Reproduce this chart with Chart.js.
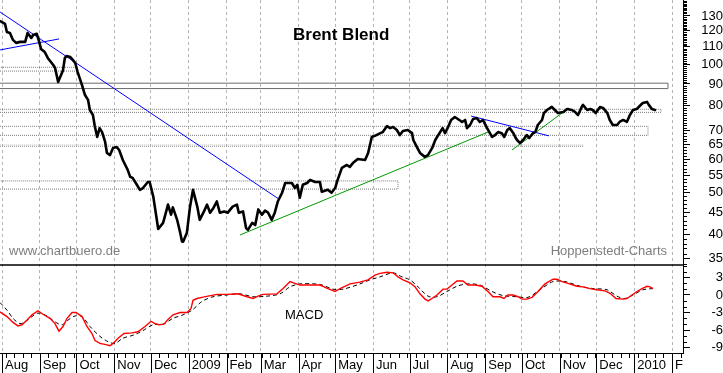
<!DOCTYPE html>
<html>
<head>
<meta charset="utf-8">
<script src="https://cdn.jsdelivr.net/npm/chart.js@4.4.0/dist/chart.umd.min.js"></script>
<style>
html,body{margin:0;padding:0;background:#fff;}
canvas{display:block;}
</style>
</head>
<body>
<canvas id="c" width="723" height="373"></canvas>
<script>
// Day numbers count from 2008-08-01 (day 0)
const monthDays   = [0,31,61,92,122,153,184,212,243,273,304,334,365,396,426,457,487,518,549];
const monthLabels = ['Aug','Sep','Oct','Nov','Dec','2009','Feb','Mar','Apr','May','Jun','Jul','Aug','Sep','Oct','Nov','Dec','2010','F'];
const priceTickValues = [35,40,45,50,55,60,65,70,80,90,100,110,120,130];
const macdTickValues  = [-9,-6,-3,0,3];

const priceDays = [
  -1.6,2.5,4,6.5,9,11.5,15,19,21,24,
  25.5,28.5,30,32,35,37.5,42,43.5,46,50,
  51.5,53,56,58,60,62,65.5,68,70.5,72,
  74.5,76,78,80,82,84.5,86,88.5,91,94,
  96,99,101,103,105,107,110.5,113,115.5,119.5,
  121,124,128,132,135,136,138.5,140,143.5,146,
  147.5,148.5,151.5,154,156.5,160,162,165.5,168,170.5,
  173.5,176,178.5,182,185,189,192.5,194,197.5,200,
  201.5,205,207.5,210,213,215.5,218,221,223.5,226,
  229.5,232,234.5,237.5,240,242,244,246.5,250,252.5,
  256.5,260.5,262,267,270,273,275,278.5,282.5,285,
  287.5,291.5,297.5,300,303,305.5,310,312,315.5,318,
  320.5,323.5,326,328.5,332.5,336,337,340,342.5,346.5,
  349,352.5,355,359,361,363,365.5,368,371,373.5,
  377,379.5,381,383.5,386,389,391.5,394,397.5,401.5,
  404,406.5,409.5,411.5,414,416,419,420.5,422,424.5,
  427,430,432,435,437,439,442.5,444,446.5,450.5,
  453,455.5,460,463,467,469.5,472,475,476,479.5,
  482,484,486.5,490,492.5,496,498,500.5,504,506,
  509,512,514.5,517,520,522.5,525,528.5,530,532.5,
  535
];
const priceClose = [
  126.5,124.5,119.2,118.6,114.2,112.4,113.0,113.0,118.6,115.4,
  117.3,118.0,114.2,108.8,107.0,103.6,99.7,98.1,91.0,97.0,
  103.6,104.7,104.1,102.5,100.8,96.0,89.6,84.8,82.6,78.2,
  76.1,71.7,67.6,70.9,69.4,65.8,62.0,61.3,63.7,64.0,
  63.0,59.7,58.1,56.6,54.5,54.2,52.2,50.8,51.3,53.0,
  53.0,48.9,41.1,42.5,45.7,46.9,44.4,46.2,43.2,40.3,
  38.4,38.4,40.3,46.2,50.8,46.4,43.2,45.2,46.9,44.9,
  46.2,47.7,44.9,45.2,44.9,46.4,46.9,44.9,45.2,41.3,
  40.9,42.5,42.0,45.7,44.4,45.4,44.9,43.2,44.9,47.7,
  50.0,52.7,52.7,52.7,51.3,52.2,48.7,52.2,52.7,53.6,
  53.0,53.0,50.3,50.8,50.0,51.3,53.6,57.2,58.1,57.5,
  58.7,60.0,59.7,62.0,67.6,68.0,69.0,69.4,71.7,70.9,
  71.3,70.2,68.3,69.8,70.2,69.0,66.5,64.0,62.0,60.7,
  61.3,63.7,66.5,69.4,70.9,69.0,71.3,74.1,75.3,74.5,
  73.3,74.1,70.9,72.1,74.5,74.9,73.3,74.1,70.9,67.6,
  68.3,69.4,69.0,67.6,70.2,70.9,69.0,67.6,66.5,65.4,
  66.5,68.3,67.2,69.0,69.4,72.1,74.1,76.9,78.2,79.5,
  78.2,76.9,77.4,78.6,78.2,77.4,76.1,79.5,80.4,78.2,
  78.6,78.2,76.9,79.5,79.1,76.9,74.1,72.1,72.1,73.3,
  74.1,73.3,76.1,78.2,78.6,79.9,81.2,81.7,80.4,78.6,
  78.2
];

const macdDays = [
  -1.6,4.1,9.0,13.1,16.4,20.5,24.6,29.5,33.6,39.3,
  43.4,46.7,50.0,53.3,57.4,60.6,65.6,69.6,73.7,76.2,
  80.3,85.2,88.5,91.0,95.1,100.0,106.5,111.4,117.2,122.1,
  125.4,128.6,132.7,136.0,140.1,145.9,151.6,154.9,156.5,159.8,
  163.9,168.8,176.2,184.4,193.4,200.8,205.7,209.8,213.9,225.3,
  230.3,236.0,240.1,244.2,260.6,267.1,272.9,277.0,285.2,293.3,
  299.9,305.6,309.7,315.5,320.4,324.5,328.6,334.3,338.4,342.5,
  346.6,349.1,352.3,356.4,361.4,364.6,368.7,372.8,377.7,381.8,
  387.6,393.3,398.2,402.3,408.1,411.3,414.6,418.7,422.8,426.1,
  430.2,434.3,439.2,444.9,451.5,454.8,458.9,463.8,471.1,476.1,
  481.8,487.5,494.1,498.2,503.1,508.8,512.1,516.2,520.3,524.4,
  528.5,531.0,533.4
];
const macdValues = [
  -2.9,-3.7,-4.7,-5.3,-5.1,-4.3,-3.4,-2.7,-3.3,-4.0,
  -4.9,-6.2,-5.4,-4.0,-3.0,-3.0,-3.7,-5.4,-6.6,-7.8,
  -8.3,-8.5,-8.7,-8.3,-7.4,-6.6,-6.5,-6.3,-5.4,-4.5,
  -4.9,-5.1,-5.0,-4.2,-3.4,-3.0,-3.0,-2.3,-0.9,-0.6,
  -0.4,-0.2,0.1,0.1,0.2,-0.3,-0.6,-0.2,0.1,0.2,
  1.1,2.3,2.0,1.7,1.7,1.1,0.6,1.1,1.9,2.2,
  2.6,3.4,3.7,3.9,3.8,3.1,2.6,2.1,1.4,0.2,
  -0.7,-1.0,-0.6,0.0,1.0,1.0,1.7,2.4,2.4,1.7,
  1.7,1.5,0.6,-0.3,-0.3,-0.6,0.0,0.0,-0.3,-0.7,
  -0.7,-0.4,0.6,1.9,2.7,2.7,2.3,2.0,1.5,1.4,
  1.1,0.9,0.7,0.3,-0.6,-0.7,-0.6,0.0,0.6,1.1,
  1.5,1.4,1.1
];
const signalDays = [
  -1.6,4.1,9.0,14.7,18.8,24.6,29.5,36.9,43.4,49.2,
  54.1,59.8,65.6,72.1,80.3,86.9,92.6,99.1,107.3,115.5,
  123.7,131.9,140.1,148.3,155.7,163.9,172.9,184.4,195.0,205.7,
  217.1,227.8,236.0,244.2,260.6,271.2,279.4,293.3,301.5,309.7,
  320.4,327.8,334.3,340.9,349.1,356.4,364.6,372.8,381.0,391.7,
  401.5,410.5,422.0,431.0,440.8,451.5,461.3,473.6,484.3,495.7,
  503.9,510.4,517.0,525.2,533.4
];
const signalValues = [
  -1.3,-2.6,-4.0,-4.9,-4.6,-3.7,-3.1,-3.6,-4.6,-5.1,
  -4.3,-3.6,-3.7,-5.4,-7.1,-8.0,-8.3,-7.4,-6.9,-6.1,
  -5.1,-5.0,-4.0,-3.4,-2.6,-1.1,-0.3,0.0,0.2,-0.3,
  -0.2,0.2,1.4,1.9,1.8,1.0,1.0,1.9,2.6,3.1,
  3.8,3.1,2.6,1.4,-0.2,-0.3,0.6,1.5,1.9,1.7,
  0.6,-0.1,-0.3,-0.4,0.9,2.3,2.3,1.5,1.1,0.9,
  -0.2,-0.6,0.0,0.9,1.1
];

// horizontal support / resistance zones
const zoneLow    = [96.5, 87.8, 77.2, 68.2, 64.2, 51.0];
const zoneHigh   = [98.5, 90.4, 78.5, 71.6, 64.7, 53.3];
const zoneEndDay = [61.5, 545.7, 540, 529.3, 476, 324.5];
const zoneSolid  = [false, true, false, false, false, false];

// trend lines
const trendStartDay   = [-1.6, -1.6, 195, 384.3, 417.9];
const trendStartPrice = [132.8, 108.2, 39.8, 75.7, 63.0];
const trendEndDay     = [227, 46.7, 398.2, 448.2, 464.6];
const trendEndPrice   = [48.3, 114.8, 69.4, 68.0, 79.1];
const trendColor      = ['#0000ff', '#0000ff', '#009900', '#0000ff', '#009900'];

const X_MIN = -1.64, X_MAX = 558.0;
const P_MIN = 33.84, P_MAX = 141.7;
const M_MIN = -9.94, M_MAX = 5.14;
const FONT = 'Liberation Sans, Arial, sans-serif';

const zip = (xs, ys) => xs.slice(0, Math.min(xs.length, ys.length)).map((x, i) => ({x, y: ys[i]}));

const datasets = [];
datasets.push({
  data: zip(priceDays, priceClose), yAxisID: 'y', borderColor: '#000', borderWidth: 2.6,
  pointRadius: 0, tension: 0, order: 0, borderJoinStyle: 'round', borderCapStyle: 'round'
});
for (let i = 0; i < trendStartDay.length; i++) {
  datasets.push({
    data: [{x: trendStartDay[i], y: trendStartPrice[i]}, {x: trendEndDay[i], y: trendEndPrice[i]}],
    yAxisID: 'y', borderColor: trendColor[i], borderWidth: 1, pointRadius: 0, order: 1
  });
}
for (let i = 0; i < zoneLow.length; i++) {
  datasets.push({
    data: [{x: X_MIN, y: zoneLow[i]}, {x: zoneEndDay[i], y: zoneLow[i]},
           {x: zoneEndDay[i], y: zoneHigh[i]}, {x: X_MIN, y: zoneHigh[i]}],
    yAxisID: 'y', borderColor: zoneSolid[i] ? '#6a6a6a' : (i === 4 ? '#a8a8a8' : '#7a7a7a'),
    borderWidth: 1, borderDash: zoneSolid[i] ? [] : [1, 1], pointRadius: 0, order: 3
  });
}
datasets.push({
  data: zip(macdDays, macdValues), yAxisID: 'm', borderColor: '#ff0000', borderWidth: 1.4,
  pointRadius: 0, tension: 0, order: 0
});
datasets.push({
  data: zip(signalDays, signalValues), yAxisID: 'm', borderColor: '#000', borderWidth: 1,
  borderDash: [4, 3], pointRadius: 0, tension: 0.3, order: 1
});

const noPad = s => { s.paddingTop = 0; s.paddingBottom = 0; s.paddingLeft = 0; s.paddingRight = 0; };

const decor = {
  id: 'decor',
  afterDraw(chart) {
    const ctx = chart.ctx, xs = chart.scales.x, ys = chart.scales.y, ms = chart.scales.m;
    ctx.save();
    ctx.strokeStyle = '#000';
    ctx.lineWidth = 1;
    ctx.beginPath();
    for (let v = Math.ceil(P_MIN); v <= P_MAX; v++) {
      if (priceTickValues.includes(v)) continue;
      const py = Math.round(ys.getPixelForValue(v)) + 0.5;
      ctx.moveTo(ys.left, py); ctx.lineTo(ys.left + 4, py);
    }
    for (let v = Math.ceil(M_MIN); v <= M_MAX; v++) {
      if (macdTickValues.includes(v)) continue;
      const py = Math.round(ms.getPixelForValue(v)) + 0.5;
      ctx.moveTo(ms.left, py); ctx.lineTo(ms.left + 4, py);
    }
    for (let d = 3; d < X_MAX; d += 7) {
      const px = Math.round(xs.getPixelForValue(d)) + 0.5;
      ctx.moveTo(px, xs.top); ctx.lineTo(px, xs.top + 5);
    }
    for (const d of monthDays) {
      const px = Math.round(xs.getPixelForValue(d)) + 0.5;
      ctx.moveTo(px, xs.top); ctx.lineTo(px, xs.top + 20);
    }
    ctx.stroke();
    // pane separator
    ctx.lineWidth = 1.6;
    ctx.beginPath();
    ctx.moveTo(chart.chartArea.left, ys.bottom);
    ctx.lineTo(ys.left, ys.bottom);
    ctx.stroke();
    // texts
    ctx.textBaseline = 'alphabetic';
    ctx.fillStyle = '#000';
    ctx.font = 'bold 17px ' + FONT;
    ctx.textAlign = 'left';
    ctx.fillText('Brent Blend', 293, 40);
    ctx.font = '13px ' + FONT;
    ctx.fillText('MACD', 285, 319);
    ctx.fillStyle = '#7f7f7f';
    ctx.fillText('www.chartbuero.de', 9, 255);
    ctx.textAlign = 'right';
    ctx.fillText('Hoppenstedt-Charts', 667, 255);
    ctx.restore();
  }
};

new Chart(document.getElementById('c'), {
  type: 'line',
  data: { datasets },
  plugins: [decor],
  options: {
    responsive: false,
    animation: false,
    events: [],
    layout: { padding: 0, autoPadding: false },
    plugins: { legend: { display: false }, tooltip: { enabled: false }, title: { display: false } },
    scales: {
      x: {
        type: 'linear', position: 'bottom', min: X_MIN, max: X_MAX,
        afterBuildTicks: s => { s.ticks = monthDays.map(v => ({value: v})); },
        afterFit: s => { s.height = 20; noPad(s); },
        grid: { display: true, drawOnChartArea: true, drawTicks: false, color: '#b4b4b4', lineWidth: 1 },
        border: { display: true, color: '#000', width: 1, dash: [3, 3] },
        ticks: {
          autoSkip: false, maxRotation: 0, minRotation: 0, align: 'start', labelOffset: 3, padding: 5,
          color: '#000', font: { family: FONT, size: 13 },
          callback: (v, i) => monthLabels[i]
        }
      },
      y: {
        type: 'logarithmic', position: 'right', stack: 'panes', stackWeight: 265,
        min: P_MIN, max: P_MAX,
        afterBuildTicks: s => { s.ticks = priceTickValues.map(v => ({value: v})); },
        afterFit: s => { s.width = 40; noPad(s); },
        grid: { drawOnChartArea: false, drawTicks: true, tickLength: 7, tickColor: '#000' },
        border: { display: true, color: '#000', width: 1 },
        ticks: {
          autoSkip: false, crossAlign: 'far', padding: 8, color: '#000', font: { family: FONT, size: 13 },
          callback: v => String(v)
        }
      },
      m: {
        type: 'linear', position: 'right', stack: 'panes', stackWeight: 88,
        min: M_MIN, max: M_MAX,
        afterBuildTicks: s => { s.ticks = macdTickValues.map(v => ({value: v})); },
        afterFit: s => { s.width = 40; noPad(s); },
        grid: { drawOnChartArea: false, drawTicks: true, tickLength: 7, tickColor: '#000' },
        border: { display: true, color: '#000', width: 1 },
        ticks: {
          autoSkip: false, crossAlign: 'far', padding: 18, color: '#000', font: { family: FONT, size: 13 },
          callback: v => String(v)
        }
      }
    }
  }
});
</script>
</body>
</html>
